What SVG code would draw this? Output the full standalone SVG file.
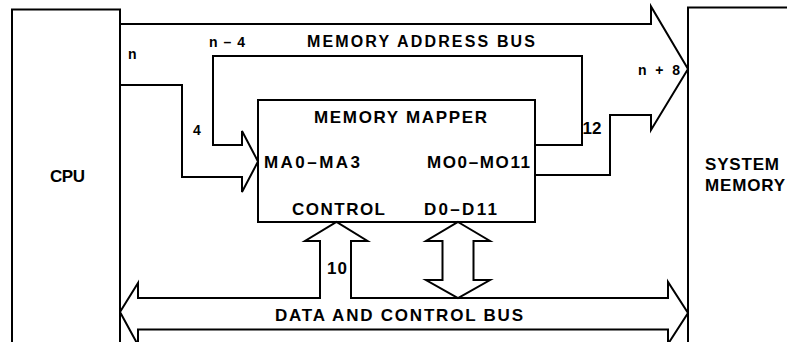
<svg xmlns="http://www.w3.org/2000/svg" width="787" height="342" viewBox="0 0 787 342">
  <style>
    .box { fill: #fff; stroke: #000; stroke-width: 2; }
    .bus { fill: none; stroke: #000; stroke-width: 2; stroke-linejoin: miter; }
    .busfill { fill: #fff; stroke: #000; stroke-width: 2; stroke-linejoin: miter; }
    text { font-family: "Liberation Sans", Arial, sans-serif; font-weight: bold; fill: #000; }
    .lg { font-size: 17px; }
    .md { font-size: 16px; }
    .sm { font-size: 14px; }
  </style>
  <rect width="787" height="342" fill="#fff"/>

  <!-- Processor -->
  <g id="cpu">
    <rect class="box" x="12" y="9.5" width="108" height="400"/>
    <text class="lg" x="50" y="182" textLength="35" lengthAdjust="spacing">CPU</text>
  </g>

  <!-- Main memory (runs past the right and bottom edges) -->
  <g id="system-memory">
    <rect class="box" x="688" y="7.5" width="200" height="400"/>
    <text class="lg" x="705" y="170" textLength="74" lengthAdjust="spacing">SYSTEM</text>
    <text class="lg" x="705" y="191" textLength="80" lengthAdjust="spacing">MEMORY</text>
  </g>

  <!-- Mapper block -->
  <g id="memory-mapper">
    <rect class="box" x="258" y="100" width="277" height="122"/>
    <text class="lg" x="314" y="122.5" textLength="173" lengthAdjust="spacing">MEMORY MAPPER</text>
    <text class="lg" x="264" y="168" textLength="96" lengthAdjust="spacing">MA0–MA3</text>
    <text class="lg" x="427" y="168" textLength="103" lengthAdjust="spacing">MO0–MO11</text>
    <text class="lg" x="292" y="215" textLength="93" lengthAdjust="spacing">CONTROL</text>
    <text class="lg" x="424" y="215" textLength="73" lengthAdjust="spacing">D0–D11</text>
  </g>

  <g id="connectors">
    <!-- Address bus: CPU to system memory, merged with mapper outputs -->
    <path class="bus" d="M120 24 H651 V6.5 L688 69 L651 130 V115 H610 V175 H535"/>
    <!-- Upper n-4 lines bypassing the mapper, and the 4-line branch into it -->
    <path class="bus" d="M535 145 H582 V56 H213 V145 H242 V131 L258 161.5 L242 192 V177 H182 V85 H120"/>

    <!-- Data and control bus with control branch -->
    <path class="busfill" d="M138 345 L120 312 L138 283 V298 H320 V241 H305 L336.5 222 L367.5 241 H351 V298 H668 V282 L688 313 L668 344 V329.5 H138 Z"/>
    <!-- Bidirectional data path -->
    <path class="busfill" d="M458 222 L490 241 H473.5 V280 H490 L458 298 L426 280 H442.5 V241 H426 Z"/>

    <!-- Bus labels -->
    <text class="md" x="307" y="47" textLength="228" lengthAdjust="spacing">MEMORY ADDRESS BUS</text>
    <text class="sm" x="128" y="58.5">n</text>
    <text class="sm" x="209" y="47" textLength="36" lengthAdjust="spacing">n–4</text>
    <text class="sm" x="193" y="135">4</text>
    <text class="lg" x="582.5" y="133.5">12</text>
    <text class="sm" x="638" y="75" textLength="42" lengthAdjust="spacing">n + 8</text>
    <text class="lg" x="327" y="274" textLength="20" lengthAdjust="spacing">10</text>
    <text class="lg" x="275" y="321" textLength="248" lengthAdjust="spacing">DATA AND CONTROL BUS</text>
  </g>
</svg>
